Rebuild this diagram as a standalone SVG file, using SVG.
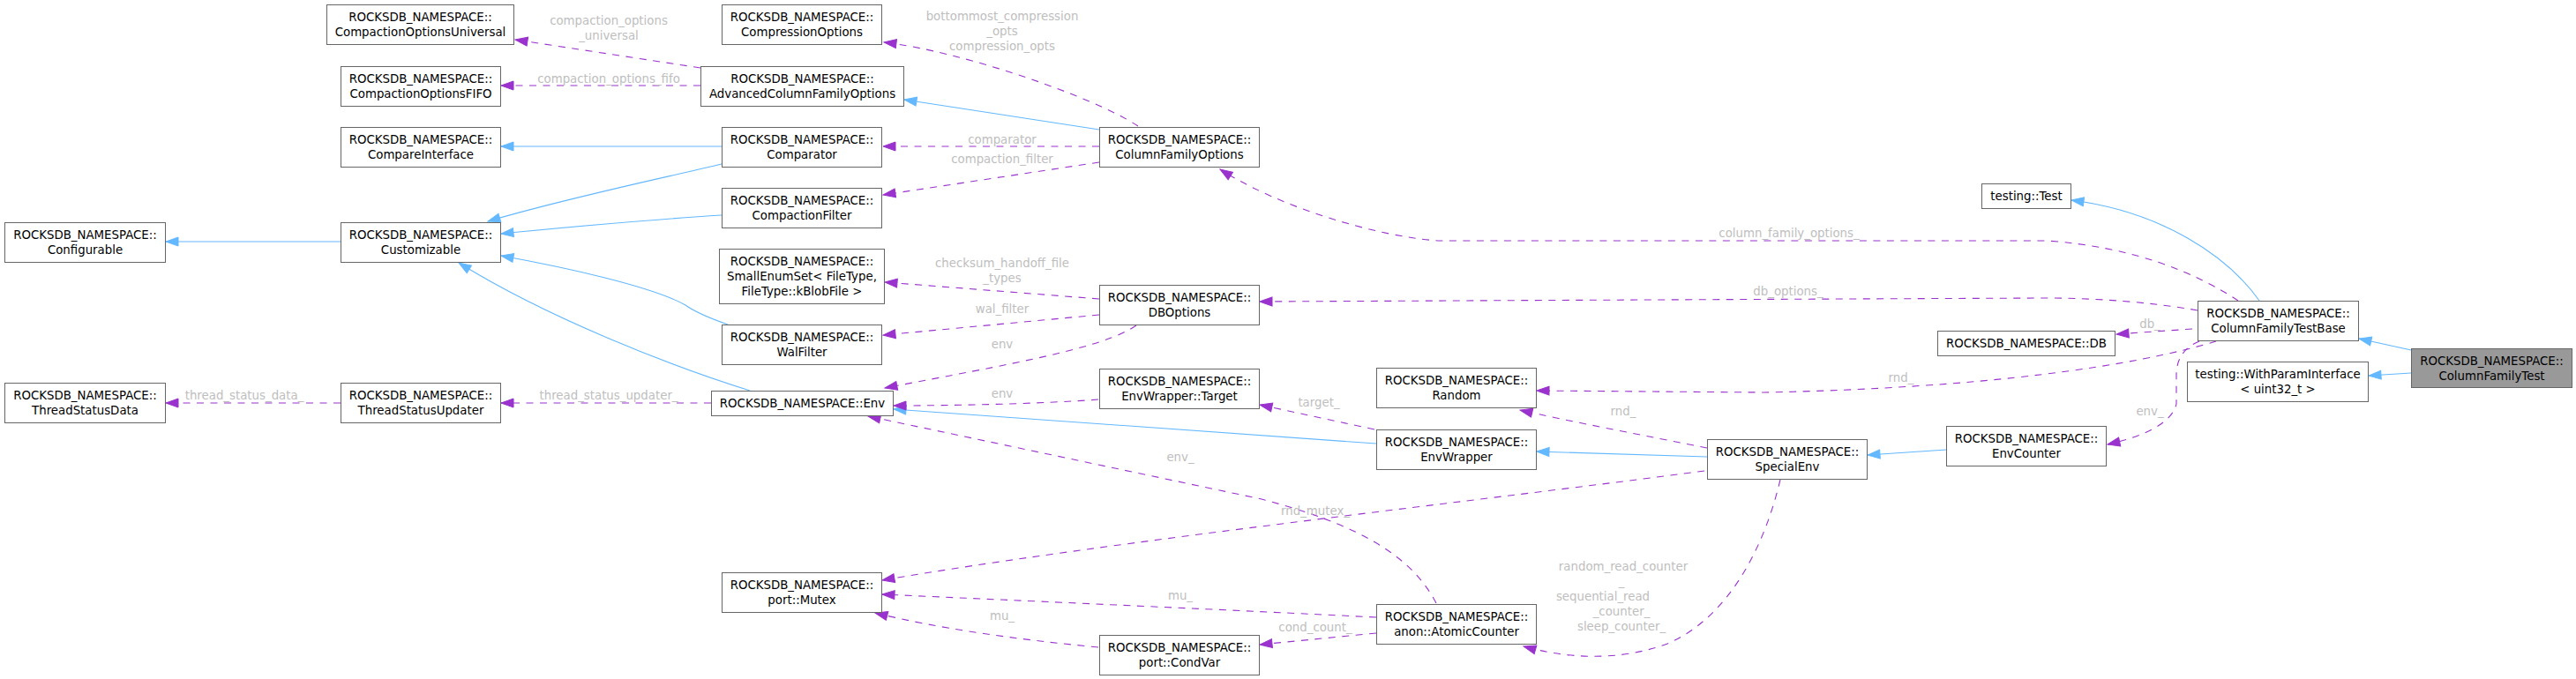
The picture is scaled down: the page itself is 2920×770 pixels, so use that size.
<svg xmlns="http://www.w3.org/2000/svg" width="2920" height="770" viewBox="0 0 2920 770">
<style>
.n rect{fill:#fff;stroke:#666;stroke-width:1}
.n.sel rect{fill:#999}
.n text{font-family:"DejaVu Sans","Liberation Sans",sans-serif;font-size:13.33px;text-anchor:middle;fill:#000}
.lbl{font-family:"DejaVu Sans","Liberation Sans",sans-serif;font-size:13.33px;text-anchor:middle;fill:#bebebe}
.inh{stroke:#63b8ff;stroke-width:1.1;fill:none;marker-end:url(#ab)}
.mem{stroke:#9a32cd;stroke-width:1.1;fill:none;stroke-dasharray:8,7.5;marker-end:url(#ap)}
</style>
<defs>
<marker id="ab" markerUnits="userSpaceOnUse" viewBox="-15 -6 16 12" markerWidth="16" markerHeight="12" refX="0" refY="0" orient="auto"><path d="M-14,-5 L0,0 L-14,5 Z" fill="#63b8ff" stroke="#63b8ff" stroke-width="1"/></marker>
<marker id="ap" markerUnits="userSpaceOnUse" viewBox="-15 -6 16 12" markerWidth="16" markerHeight="12" refX="0" refY="0" orient="auto"><path d="M-14,-5 L0,0 L-14,5 Z" fill="#9a32cd" stroke="#9a32cd" stroke-width="1"/></marker>
</defs>
<rect x="0" y="0" width="2920" height="770" fill="#fff"/>

<g id="edges">
<path class="inh" d="M1246,147 L1025,113"/>
<path class="inh" d="M818,166 L568,166"/>
<path class="inh" d="M818,186 C760,200 640,225 553,251"/>
<path class="inh" d="M818,244 C720,250 640,258 568,265"/>
<path class="inh" d="M825,368 C805,361 788,354 777,346 C740,325 640,303 568,290"/>
<path class="inh" d="M850,443 C760,415 620,360 520,298"/>
<path class="inh" d="M386,274 L188,274"/>
<path class="inh" d="M1560,503 L1013,464"/>
<path class="inh" d="M1935,518 L1742,512"/>
<path class="inh" d="M2206,510 L2117,516"/>
<path class="inh" d="M2561,341 C2525,290 2450,240 2348,227"/>
<path class="inh" d="M2733,397 L2674,384"/>
<path class="inh" d="M2733,423 L2685,426"/>

<path class="mem" d="M794,77 L584,45"/>
<path class="mem" d="M794,97 L568,97"/>
<path class="mem" d="M1290,143 C1240,110 1090,58 1002,48"/>
<path class="mem" d="M1246,166 L1001,166"/>
<path class="mem" d="M1246,184 L1001,221"/>
<path class="mem" d="M2537,341 C2490,310 2420,280 2320,273 L1630,273 C1560,268 1450,235 1383,192"/>
<path class="mem" d="M2491,352 C2440,343 2380,338 2317,338 L1428,342"/>
<path class="mem" d="M2485,373 L2399,379"/>
<path class="mem" d="M2512,387 C2420,415 2250,440 2000,445 L1742,443"/>
<path class="mem" d="M2493,387 C2478,393 2467,405 2467,425 L2467,458 C2462,480 2430,495 2389,504"/>
<path class="mem" d="M1935,508 C1870,495 1780,478 1723,465"/>
<path class="mem" d="M1558,487 L1428,459"/>
<path class="mem" d="M1245,453 C1180,458 1080,460 1013,460"/>
<path class="mem" d="M1288,369 C1250,395 1150,412 1003,440"/>
<path class="mem" d="M1246,339 L1003,320"/>
<path class="mem" d="M1246,357 L1001,380"/>
<path class="mem" d="M806,457 L568,457"/>
<path class="mem" d="M386,457 L188,457"/>
<path class="mem" d="M1628,684 C1600,630 1540,595 1430,566 L984,472"/>
<path class="mem" d="M1932,534 C1700,565 1250,615 1000,658"/>
<path class="mem" d="M1560,700 C1400,692 1200,683 1000,674"/>
<path class="mem" d="M1245,734 C1150,725 1060,712 992,695"/>
<path class="mem" d="M1560,718 L1428,731"/>
<path class="mem" d="M2018,544 C2000,620 1960,700 1890,730 C1830,752 1770,745 1727,733"/>

<text class="lbl" x="690" y="28">compaction_options</text>
<text class="lbl" x="690" y="45">_universal</text>
<text class="lbl" x="690" y="94">compaction_options_fifo</text>
<text class="lbl" x="1136" y="23">bottommost_compression</text>
<text class="lbl" x="1136" y="40">_opts</text>
<text class="lbl" x="1136" y="57">compression_opts</text>
<text class="lbl" x="1136" y="163">comparator</text>
<text class="lbl" x="1136" y="185">compaction_filter</text>
<text class="lbl" x="1136" y="303">checksum_handoff_file</text>
<text class="lbl" x="1136" y="320">_types</text>
<text class="lbl" x="1136" y="355">wal_filter</text>
<text class="lbl" x="1136" y="395">env</text>
<text class="lbl" x="1136" y="451">env</text>
<text class="lbl" x="690" y="453">thread_status_updater_</text>
<text class="lbl" x="277" y="453">thread_status_data_</text>
<text class="lbl" x="2028" y="269">column_family_options_</text>
<text class="lbl" x="2027" y="335">db_options_</text>
<text class="lbl" x="2437" y="372">db_</text>
<text class="lbl" x="2155" y="433">rnd_</text>
<text class="lbl" x="2437" y="471">env_</text>
<text class="lbl" x="1495" y="461">target_</text>
<text class="lbl" x="1840" y="471">rnd_</text>
<text class="lbl" x="1338" y="523">env_</text>
<text class="lbl" x="1491" y="584">rnd_mutex_</text>
<text class="lbl" x="1338" y="680">mu_</text>
<text class="lbl" x="1136" y="703">mu_</text>
<text class="lbl" x="1491" y="716">cond_count_</text>
<text class="lbl" x="1840" y="647">random_read_counter</text>
<text class="lbl" x="1838" y="664">_</text>
<text class="lbl" x="1817" y="681">sequential_read</text>
<text class="lbl" x="1838" y="698">_counter_</text>
<text class="lbl" x="1838" y="715">sleep_counter_</text>
</g>

<g id="Configurable" class="n"><rect x="5.5" y="252.5" width="182" height="45"/><text x="96.5" y="271">ROCKSDB_NAMESPACE::</text><text x="96.5" y="288">Configurable</text></g>
<g id="Customizable" class="n"><rect x="386.5" y="252.5" width="181" height="45"/><text x="477" y="271">ROCKSDB_NAMESPACE::</text><text x="477" y="288">Customizable</text></g>
<g id="CompactionOptionsUniversal" class="n"><rect x="370.5" y="5.5" width="212" height="45"/><text x="476.5" y="24">ROCKSDB_NAMESPACE::</text><text x="476.5" y="41">CompactionOptionsUniversal</text></g>
<g id="CompactionOptionsFIFO" class="n"><rect x="386.5" y="75.5" width="181" height="45"/><text x="477" y="94">ROCKSDB_NAMESPACE::</text><text x="477" y="111">CompactionOptionsFIFO</text></g>
<g id="CompareInterface" class="n"><rect x="386.5" y="144.5" width="181" height="45"/><text x="477" y="163">ROCKSDB_NAMESPACE::</text><text x="477" y="180">CompareInterface</text></g>
<g id="ThreadStatusData" class="n"><rect x="5.5" y="434.5" width="182" height="45"/><text x="96.5" y="453">ROCKSDB_NAMESPACE::</text><text x="96.5" y="470">ThreadStatusData</text></g>
<g id="ThreadStatusUpdater" class="n"><rect x="386.5" y="434.5" width="181" height="45"/><text x="477" y="453">ROCKSDB_NAMESPACE::</text><text x="477" y="470">ThreadStatusUpdater</text></g>
<g id="CompressionOptions" class="n"><rect x="818.5" y="5.5" width="181" height="45"/><text x="909" y="24">ROCKSDB_NAMESPACE::</text><text x="909" y="41">CompressionOptions</text></g>
<g id="AdvancedColumnFamilyOptions" class="n"><rect x="794.5" y="75.5" width="230" height="45"/><text x="909.5" y="94">ROCKSDB_NAMESPACE::</text><text x="909.5" y="111">AdvancedColumnFamilyOptions</text></g>
<g id="Comparator" class="n"><rect x="818.5" y="144.5" width="181" height="45"/><text x="909" y="163">ROCKSDB_NAMESPACE::</text><text x="909" y="180">Comparator</text></g>
<g id="CompactionFilter" class="n"><rect x="818.5" y="213.5" width="181" height="45"/><text x="909" y="232">ROCKSDB_NAMESPACE::</text><text x="909" y="249">CompactionFilter</text></g>
<g id="SmallEnumSet" class="n"><rect x="815.5" y="282.5" width="187" height="62"/><text x="909" y="301">ROCKSDB_NAMESPACE::</text><text x="909" y="318">SmallEnumSet&lt; FileType,</text><text x="909" y="335">FileType::kBlobFile &gt;</text></g>
<g id="WalFilter" class="n"><rect x="818.5" y="368.5" width="181" height="45"/><text x="909" y="387">ROCKSDB_NAMESPACE::</text><text x="909" y="404">WalFilter</text></g>
<g id="Env" class="n"><rect x="806.5" y="443.5" width="206" height="28"/><text x="909.5" y="462">ROCKSDB_NAMESPACE::Env</text></g>
<g id="Mutex" class="n"><rect x="818.5" y="649.5" width="181" height="45"/><text x="909" y="668">ROCKSDB_NAMESPACE::</text><text x="909" y="685">port::Mutex</text></g>
<g id="ColumnFamilyOptions" class="n"><rect x="1246.5" y="144.5" width="181" height="45"/><text x="1337" y="163">ROCKSDB_NAMESPACE::</text><text x="1337" y="180">ColumnFamilyOptions</text></g>
<g id="DBOptions" class="n"><rect x="1246.5" y="323.5" width="181" height="45"/><text x="1337" y="342">ROCKSDB_NAMESPACE::</text><text x="1337" y="359">DBOptions</text></g>
<g id="EnvWrapperTarget" class="n"><rect x="1246.5" y="418.5" width="181" height="45"/><text x="1337" y="437">ROCKSDB_NAMESPACE::</text><text x="1337" y="454">EnvWrapper::Target</text></g>
<g id="CondVar" class="n"><rect x="1246.5" y="720.5" width="181" height="45"/><text x="1337" y="739">ROCKSDB_NAMESPACE::</text><text x="1337" y="756">port::CondVar</text></g>
<g id="Random" class="n"><rect x="1560.5" y="417.5" width="181" height="45"/><text x="1651" y="436">ROCKSDB_NAMESPACE::</text><text x="1651" y="453">Random</text></g>
<g id="EnvWrapper" class="n"><rect x="1560.5" y="487.5" width="181" height="45"/><text x="1651" y="506">ROCKSDB_NAMESPACE::</text><text x="1651" y="523">EnvWrapper</text></g>
<g id="AtomicCounter" class="n"><rect x="1560.5" y="685.5" width="181" height="45"/><text x="1651" y="704">ROCKSDB_NAMESPACE::</text><text x="1651" y="721">anon::AtomicCounter</text></g>
<g id="SpecialEnv" class="n"><rect x="1935.5" y="498.5" width="181" height="45"/><text x="2026" y="517">ROCKSDB_NAMESPACE::</text><text x="2026" y="534">SpecialEnv</text></g>
<g id="EnvCounter" class="n"><rect x="2206.5" y="483.5" width="181" height="45"/><text x="2297" y="502">ROCKSDB_NAMESPACE::</text><text x="2297" y="519">EnvCounter</text></g>
<g id="DB" class="n"><rect x="2196.5" y="375.5" width="201" height="28"/><text x="2297" y="394">ROCKSDB_NAMESPACE::DB</text></g>
<g id="Test" class="n"><rect x="2246.5" y="208.5" width="101" height="28"/><text x="2297" y="227">testing::Test</text></g>
<g id="ColumnFamilyTestBase" class="n"><rect x="2491.5" y="341.5" width="182" height="45"/><text x="2582.5" y="360">ROCKSDB_NAMESPACE::</text><text x="2582.5" y="377">ColumnFamilyTestBase</text></g>
<g id="WithParamInterface" class="n"><rect x="2479.5" y="410.5" width="205" height="45"/><text x="2582" y="429">testing::WithParamInterface</text><text x="2582" y="446">&lt; uint32_t &gt;</text></g>
<g id="ColumnFamilyTest" class="n sel"><rect x="2733.5" y="395.5" width="182" height="44"/><text x="2824.5" y="414">ROCKSDB_NAMESPACE::</text><text x="2824.5" y="431">ColumnFamilyTest</text></g>
</svg>
